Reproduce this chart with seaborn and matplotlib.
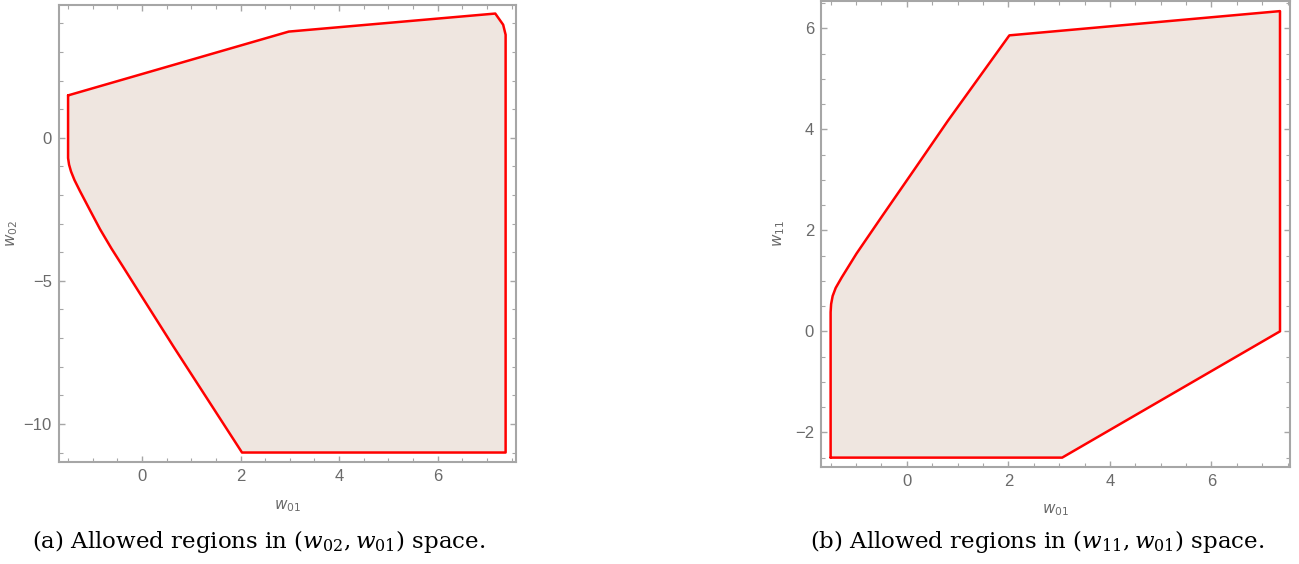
import numpy as np
import pandas as pd
import matplotlib
matplotlib.use("Agg")
import matplotlib.pyplot as plt
from matplotlib.ticker import MultipleLocator
import seaborn as sns

# Boundary of allowed region (a): (w01, w02)
a_w01 = [-1.50, 2.98, 7.17, 7.33, 7.38, 7.38, 2.03, 0.64, -0.04, -0.38,
         -0.62, -0.85, -1.05, -1.26, -1.37, -1.44, -1.48, -1.50, -1.50]
a_w02 = [1.48, 3.71, 4.34, 3.95, 3.60, -11.0, -11.0, -7.30, -5.45, -4.52,
         -3.87, -3.20, -2.55, -1.86, -1.48, -1.18, -0.94, -0.71, 1.48]

# Boundary of allowed region (b): (w01, w11)
b_w01 = [-1.50, 3.06, 7.35, 7.35, 2.02, 0.81, 0.16, -0.50, -0.99, -1.28,
         -1.40, -1.46, -1.49, -1.50, -1.50]
b_w11 = [-2.50, -2.50, 0.00, 6.34, 5.86, 4.17, 3.22, 2.26, 1.54, 1.07,
         0.86, 0.70, 0.54, 0.38, -2.50]

captions = ["(a) Allowed regions in $(w_{02}, w_{01})$ space.",
            "(b) Allowed regions in $(w_{11}, w_{01})$ space."]

sns.set_style("ticks")

fill_c = "#EFE6E0"
frame_c = "#A6A6A6"
text_c = "#6A6A6A"
tick_font = "Liberation Sans"

fig = plt.figure(figsize=(12.99, 5.64), dpi=100)
ax1 = fig.add_axes([0.0452, 0.1809, 0.3520, 0.8108])
ax2 = fig.add_axes([0.6320, 0.1725, 0.3608, 0.8257])

def draw(ax, xs, ys, xlim, ylim, ylabel, ymaj, ymin, ylab_x):
    ax.fill(xs, ys, color=fill_c, lw=0, zorder=1)
    df = pd.DataFrame({"x": xs, "y": ys})
    sns.lineplot(data=df, x="x", y="y", sort=False, estimator=None,
                 color="red", lw=1.8, ax=ax, zorder=3)
    ax.set_xlim(*xlim)
    ax.set_ylim(*ylim)
    ax.xaxis.set_major_locator(MultipleLocator(2))
    ax.xaxis.set_minor_locator(MultipleLocator(0.5))
    ax.yaxis.set_major_locator(MultipleLocator(ymaj))
    ax.yaxis.set_minor_locator(MultipleLocator(ymin))
    for s in ax.spines.values():
        s.set_color(frame_c)
        s.set_linewidth(1.5)
    ax.tick_params(which="both", direction="in", top=True, right=True,
                   color=frame_c, labelcolor=text_c, labelsize=12)
    ax.tick_params(which="major", length=4.5, width=1, pad=5)
    ax.tick_params(which="minor", length=2.8, width=0.8)
    for lab in ax.get_xticklabels() + ax.get_yticklabels():
        lab.set_fontfamily(tick_font)
    ax.set_xlabel("$w_{01}$", color=text_c, fontsize=11,
                  math_fontfamily="dejavusans", labelpad=10)
    ax.set_ylabel(ylabel, color=text_c, fontsize=11,
                  math_fontfamily="dejavusans")
    ax.yaxis.set_label_coords(ylab_x, 0.5)

draw(ax1, a_w01, a_w02, (-1.69, 7.59), (-11.33, 4.65), "$w_{02}$", 5, 1, -0.085)
draw(ax2, b_w01, b_w11, (-1.69, 7.54), (-2.68, 6.54), "$w_{11}$", 2, 0.5, -0.072)

fig.text(0.1989, 0.040, captions[0], ha="center", va="center",
         fontsize=16.5, family="DejaVu Serif", color="black",
         math_fontfamily="dejavuserif")
fig.text(0.7987, 0.040, captions[1], ha="center", va="center",
         fontsize=16.5, family="DejaVu Serif", color="black",
         math_fontfamily="dejavuserif")

fig.savefig("out.png", dpi=100)
